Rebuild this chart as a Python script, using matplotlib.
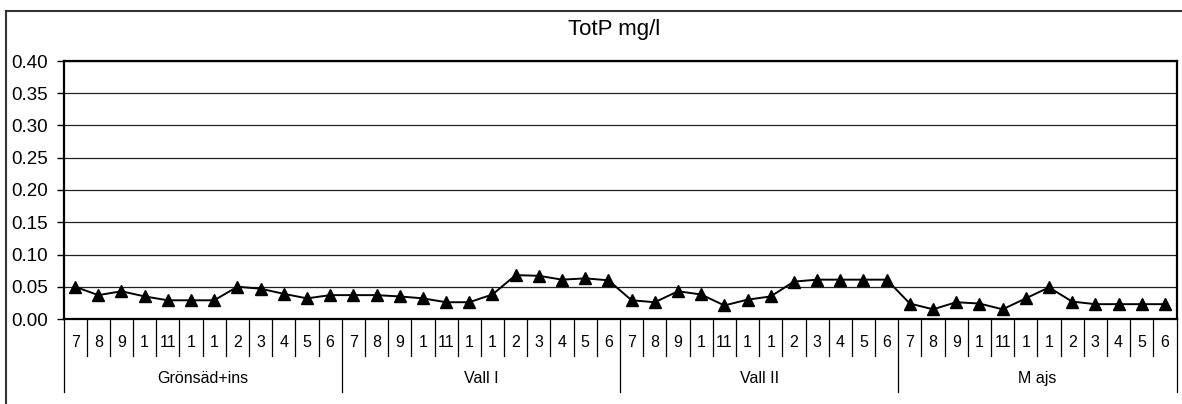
import matplotlib
matplotlib.use('Agg')
import matplotlib.pyplot as plt
from matplotlib.patches import Rectangle
import numpy as np

plt.rcParams['font.family'] = ['Liberation Sans', 'DejaVu Sans']

# data
groups = ['Grönsäd+ins', 'Vall I', 'Vall II', 'M ajs']
months = ['7', '8', '9', '1', '11', '1', '1', '2', '3', '4', '5', '6']
gronsad = [0.050, 0.037, 0.043, 0.035, 0.029, 0.029, 0.029, 0.050, 0.047, 0.039, 0.032, 0.037]
vall1 = [0.037, 0.037, 0.035, 0.032, 0.026, 0.026, 0.038, 0.068, 0.067, 0.061, 0.063, 0.060]
vall2 = [0.029, 0.026, 0.043, 0.038, 0.021, 0.030, 0.035, 0.058, 0.061, 0.061, 0.061, 0.061]
majs = [0.024, 0.015, 0.026, 0.024, 0.015, 0.032, 0.049, 0.027, 0.023, 0.023, 0.023, 0.023]

values = gronsad + vall1 + vall2 + majs
n = len(values)
x = np.arange(n)

fig = plt.figure(figsize=(11.82, 4.04), dpi=100)
ax = fig.add_axes([63.5 / 1182, 1 - 319 / 404, (1176.5 - 63.5) / 1182, 258 / 404])

# outer chart border (runs off the right and bottom edges)
fig.patches.append(Rectangle((6 / 1182, -0.05), 1.1, 1 - 11 / 404 + 0.05,
                             transform=fig.transFigure, fill=False,
                             edgecolor='#333333', lw=1.5))
fig.text(614 / 1182, 1 - 29 / 404, 'TotP mg/l', ha='center', va='center', fontsize=16)

ax.plot(x, values, color='black', lw=1.4, marker='^', markersize=8, zorder=3, clip_on=False)

ax.set_xlim(-0.5, n - 0.5)
ax.set_ylim(0, 0.40)
ax.set_yticks(np.arange(0, 0.401, 0.05))
ax.set_yticklabels(['%.2f' % v for v in np.arange(0, 0.401, 0.05)], fontsize=13.5)
ax.tick_params(axis='y', length=5, width=1, pad=6, color='black')
ax.set_xticks([])
ax.yaxis.grid(True, color='#222222', lw=0.9)
ax.set_axisbelow(True)
for s in ax.spines.values():
    s.set_color('black')
    s.set_linewidth(1.6)

# category axis: month labels and separators
tr = ax.get_xaxis_transform()
for i in range(n + 1):
    bottom = -0.283 if i % len(months) == 0 else -0.1434
    ax.plot([i - 0.5, i - 0.5], [0, bottom], transform=tr, color='black', lw=0.9, clip_on=False)
for i in range(n):
    ax.text(i, -0.093, months[i % len(months)], transform=tr, ha='center', va='center', fontsize=11.5)
for g, name in enumerate(groups):
    ax.text(g * len(months) + (len(months) - 1) / 2, -0.229, name, transform=tr,
            ha='center', va='center', fontsize=11.5)

fig.savefig('out.png', dpi=100)
